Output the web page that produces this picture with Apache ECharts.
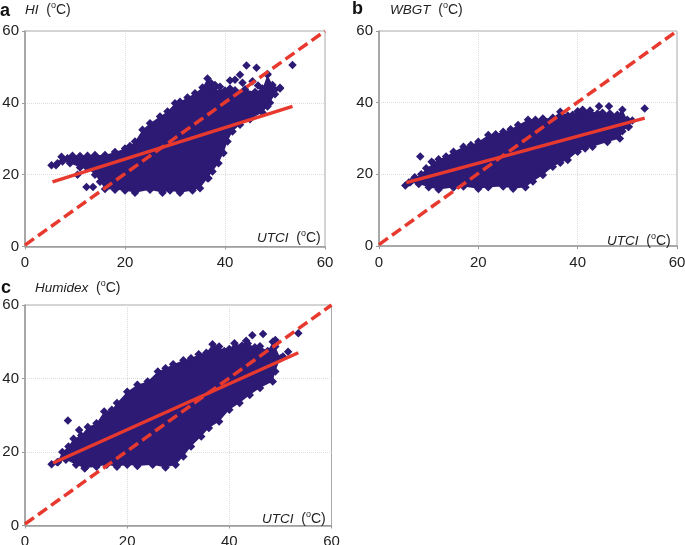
<!DOCTYPE html>
<html>
<head>
<meta charset="utf-8">
<script src="https://cdn.jsdelivr.net/npm/echarts@6/dist/echarts.min.js"></script>
<style>
    html, body { margin: 0; padding: 0; background: #fff; }
    #main { width: 685px; height: 545px; }
</style>
</head>
<body>
<div id="main"></div>
<script>
    // outline of each cloud, [UTCI, index], clockwise from the left tip
    var hiEdge = [[5.3,22.6],[6.5,23.2],[7.3,25],[8.5,24.6],[9.5,25.3],[11,25.2],[12.5,25.3],[14,25.5],[16,25.5],[18,26.3],[20,27.3],[21,28],[22,29.2],[23.5,32.5],[25,34.3],[27,36.2],[28.5,37.6],[30,39.9],[31,40.3],[32.5,41.5],[34,42.7],[35.5,44.3],[36.5,46.8],[37.2,45.5],[38,44.3],[39,43],[40,43.4],[41,44],[42,43.5],[44,43.8],[46,43],[47.5,44],[48.5,47.8],[49.5,45],[51,44],[50,42.4],[49,40],[48.5,39],[47.5,37.3],[45,35.4],[43,33.9],[41.5,32],[40.5,29.2],[39.7,26],[38.7,23.2],[37.5,20.9],[36.5,19],[35,16.2],[33.5,15.6],[31,15],[29,15.6],[27.5,15],[25,15.8],[22,15],[20,15.6],[18,15.8],[16,16],[15,18],[14,20],[12.5,21.8],[11,22],[9,23.2],[7.5,23.7],[6.2,22.6]];
    var hiOutliers = [[12.3,16.6],[13.6,16.6],[10.5,20],[36.7,19],[53.5,50.5],[44.3,50.4],[46.3,49.8],[43,47.8],[41,46.2],[42,46.4],[43.5,45.6],[45.5,46],[46.6,44.8],[48.5,48],[38,45],[39,44.5],[51,44.2]];
    var wbgtEdge = [[5.3,16.9],[6.3,17.8],[7.2,19],[8.5,20],[9.5,21.7],[11,23],[12,24.2],[13.5,25],[15,26.3],[17,27.7],[18.5,28.2],[20,29.1],[22,31],[23.5,31.2],[25,31.9],[26.5,32.6],[28,33.8],[30,35.2],[31.5,35.2],[33,35.6],[35,35.8],[36.5,37.5],[38,36.4],[39,36.6],[40,37.6],[41,38],[42.5,37.8],[44,37],[45,37.2],[46.5,37],[48,36.6],[49,38],[50,35.2],[51,35],[50.3,33.3],[49,32],[48.5,30],[46,29],[43,27.7],[41.5,27.2],[40,26.3],[38,24],[36.5,23.2],[35,22.1],[33,19.8],[31,18],[29.5,16.4],[27,16],[25,16.6],[22,16.4],[20,16],[17,16.6],[15,16.3],[12,15.8],[10,16.4],[8,17.3],[6,17.7]];
    var wbgtOutliers = [[8.3,25],[10.6,23.5],[53.5,38.4],[44.3,39],[46.3,39],[50.2,33.2],[7.2,19.2]];
    var humidexEdge = [[5.2,16.7],[6.3,17.2],[7.3,20],[8.5,21.5],[9.5,23.6],[11,24.5],[12.3,26.8],[14,27.8],[15.5,31],[17,31.5],[18,33.3],[20,36.4],[22,38.3],[24,39.2],[26,41.9],[27.5,42.8],[29,43.9],[31,45],[32.5,45.5],[34,46.6],[35.5,47],[36.7,49.3],[38,48.7],[39,47.5],[40,48],[41,49.6],[42.5,49],[43.6,49.5],[45,48.5],[46,48.8],[47.5,47.5],[48.5,50],[49,48.7],[50,45.5],[49,41.9],[48.5,39.2],[46,37.4],[44,35.5],[42,33.3],[40,31.5],[38,28.3],[36,26.5],[34.5,24.2],[32.5,21.5],[31,18.8],[29.5,16.5],[27.5,15.8],[25,16.5],[22,16.2],[20,16.5],[18,16],[16,16.5],[14,16],[11.7,15.6],[10,16.5],[8,17.9],[6.5,17.3]];
    var humidexOutliers = [[8.4,28.6],[10.6,26],[53.5,52.3],[44.5,51.8],[46.6,52.1],[43.3,50.3],[49,50.5],[51.5,47.3],[50.5,46],[11.7,15.6]];

    var identityLine = [[0,0.4],[60,60]];
    var hiFit = [[5.5,18],[53.5,39]];
    var wbgtFit = [[5.5,17.7],[53.5,35.7]];
    var humidexFit = [[5.5,17],[53.5,47]];
    var tickLabels = [0, 20, 40, 60];

    var panels = [
        { letter: 'a', name: 'HI', edge: hiEdge, outliers: hiOutliers, fit: hiFit,
          left: 25, top: 31, width: 300, height: 215.5 },
        { letter: 'b', name: 'WBGT', edge: wbgtEdge, outliers: wbgtOutliers, fit: wbgtFit,
          left: 379, top: 31, width: 298, height: 215 },
        { letter: 'c', name: 'Humidex', edge: humidexEdge, outliers: humidexOutliers, fit: humidexFit,
          left: 25, top: 305, width: 306.5, height: 220.5 }
    ];

    var navy = '#2c1a74';
    var red = '#e8392f';
    var fontFamily = '"Liberation Sans", Arial, sans-serif';

    function axis(index, margin) {
        return {
            type: 'value', gridIndex: index, min: 0, max: 60, interval: 20,
            axisLine: { show: true, lineStyle: { color: '#9a9a9a', width: 1.5 } },
            axisTick: { show: true, length: 3, lineStyle: { color: '#9a9a9a' } },
            axisLabel: { color: '#222', fontSize: 15, fontFamily: fontFamily, margin: margin,
                formatter: function (v) { return tickLabels.indexOf(v) >= 0 ? String(v) : ''; } },
            splitLine: { show: true, showMinLine: false, showMaxLine: false,
                lineStyle: { color: '#dcdcdc', type: 'dotted', width: 1 } }
        };
    }

    function unitText(name) {
        return '{i|' + name + '}  {n|(}{s|o}{n|C)}';
    }
    var unitRich = {
        i: { fontStyle: 'italic', fontSize: 13.5, fontFamily: fontFamily, color: '#222', lineHeight: 16, verticalAlign: 'bottom' },
        n: { fontSize: 14, fontFamily: fontFamily, color: '#222', lineHeight: 16, verticalAlign: 'bottom' },
        s: { fontSize: 9, fontFamily: fontFamily, color: '#222', lineHeight: 16, verticalAlign: 'top' }
    };

    function label(x, y, text, rich, extra) {
        return { type: 'text', left: x, top: y, z: 20,
            style: Object.assign({ text: text, rich: rich, fill: '#222', font: '14px ' + fontFamily }, extra || {}) };
    }

    var grids = [], xAxes = [], yAxes = [], series = [];
    panels.forEach(function (p, i) {
        // outerBoundsMode none: the tick labels may touch the window edge, as in the original
        grids.push({ left: p.left, top: p.top, width: p.width, height: p.height, show: true,
            outerBoundsMode: 'none', borderColor: '#a8a8a8', borderWidth: 1, backgroundColor: '#fff' });
        xAxes.push(axis(i, 9));
        yAxes.push(axis(i, 6));
        // solid interior of the cloud, its points are too dense to read one by one
        series.push({
            type: 'custom', xAxisIndex: i, yAxisIndex: i, z: 2, data: p.edge, silent: true,
            encode: { x: 0, y: 1 },
            renderItem: function (params, api) {
                if (params.dataIndex > 0) return;
                return { type: 'polygon', shape: { points: p.edge.map(function (d) { return api.coord(d); }) },
                    style: { fill: navy } };
            }
        });
        series.push({
            type: 'scatter', xAxisIndex: i, yAxisIndex: i, z: 3, symbol: 'diamond', symbolSize: 8.5,
            itemStyle: { color: navy, opacity: 1 }, data: p.edge.concat(p.outliers)
        });
        series.push({
            type: 'line', xAxisIndex: i, yAxisIndex: i, z: 5, data: identityLine, showSymbol: false, symbol: 'none',
            lineStyle: { color: red, width: 3.5, type: [11, 5] }
        });
        series.push({
            type: 'line', xAxisIndex: i, yAxisIndex: i, z: 6, data: p.fit, showSymbol: false, symbol: 'none',
            lineStyle: { color: red, width: 3.5 }
        });
    });

    var texts = [
        label(0, 2, 'a', null, { font: 'bold 18px ' + fontFamily, fill: '#111' }),
        label(25, 1, unitText('HI'), unitRich),
        label(352, 0, 'b', null, { font: 'bold 18px ' + fontFamily, fill: '#111' }),
        label(390, 1, unitText('WBGT'), unitRich),
        label(1, 279, 'c', null, { font: 'bold 18px ' + fontFamily, fill: '#111' }),
        label(35, 279, unitText('Humidex'), unitRich),
        label(257, 229, unitText('UTCI'), unitRich),
        label(607, 232, unitText('UTCI'), unitRich),
        label(262, 510, unitText('UTCI'), unitRich)
    ];

    var chart = echarts.init(document.getElementById('main'));
    chart.setOption({
        animation: false,
        backgroundColor: '#fff',
        grid: grids,
        xAxis: xAxes,
        yAxis: yAxes,
        series: series,
        graphic: texts
    });
</script>
</body>
</html>
